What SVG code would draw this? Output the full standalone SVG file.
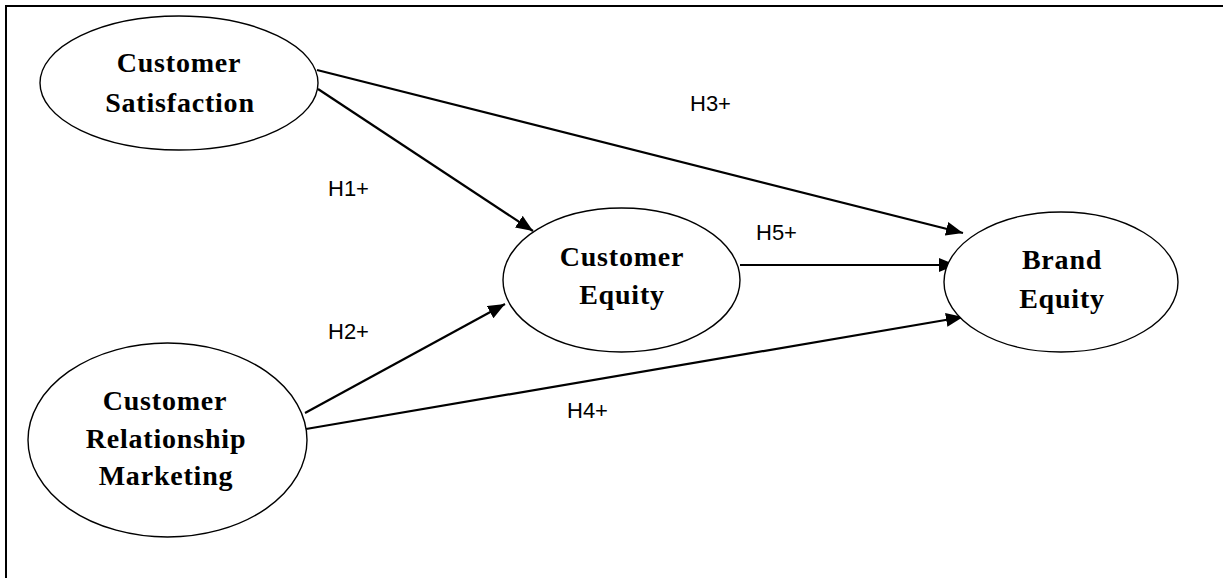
<svg xmlns="http://www.w3.org/2000/svg" width="1223" height="578" viewBox="0 0 1223 578">
<defs>
<style>
.node{fill:#fff;stroke:#000;stroke-width:1.4}
.nt{font-family:"Liberation Serif","Times New Roman",serif;font-weight:bold;font-size:28px;letter-spacing:0.8px;text-anchor:middle;fill:#000}
.lbl{font-family:"Liberation Sans",Arial,sans-serif;font-size:22px;fill:#000}
.edge{stroke:#000;stroke-width:2.2;fill:none}
.frame{stroke:#000;stroke-width:2;fill:none}
</style>
<marker id="arr" markerUnits="userSpaceOnUse" markerWidth="18" markerHeight="14" refX="17" refY="7" orient="auto">
<path d="M0,0 L17,7 L0,14 z" fill="#000"/>
</marker>
</defs>
<rect width="1223" height="578" fill="#fff"/>
<g id="frame">
<path class="frame" d="M6,578 L6,6 L1223,6"/>
</g>
<g id="connectors">
<line class="edge" x1="317" y1="70" x2="963" y2="233" marker-end="url(#arr)"/>
<line class="edge" x1="318" y1="89" x2="533" y2="231" marker-end="url(#arr)"/>
<line class="edge" x1="740" y1="265" x2="956" y2="265" marker-end="url(#arr)"/>
<line class="edge" x1="305" y1="413" x2="505" y2="304" marker-end="url(#arr)"/>
<line class="edge" x1="306" y1="429" x2="963" y2="317" marker-end="url(#arr)"/>
<text class="lbl" x="690" y="111">H3+</text>
<text class="lbl" x="328" y="196">H1+</text>
<text class="lbl" x="756" y="240">H5+</text>
<text class="lbl" x="328" y="339">H2+</text>
<text class="lbl" x="567" y="418">H4+</text>
</g>
<g id="customer-satisfaction">
<ellipse class="node" cx="179" cy="83" rx="139" ry="67"/>
<text class="nt" x="179" y="72">Customer</text>
<text class="nt" x="180" y="112">Satisfaction</text>
</g>
<g id="crm">
<ellipse class="node" cx="167.5" cy="440" rx="139.5" ry="97"/>
<text class="nt" x="165" y="410">Customer</text>
<text class="nt" x="166" y="448">Relationship</text>
<text class="nt" x="166" y="485">Marketing</text>
</g>
<g id="customer-equity">
<ellipse class="node" cx="621.5" cy="280" rx="118.5" ry="72"/>
<text class="nt" x="622" y="266">Customer</text>
<text class="nt" x="622" y="304">Equity</text>
</g>
<g id="brand-equity">
<ellipse class="node" cx="1061" cy="282" rx="117" ry="70"/>
<text class="nt" x="1062" y="269">Brand</text>
<text class="nt" x="1062" y="308">Equity</text>
</g>
</svg>
